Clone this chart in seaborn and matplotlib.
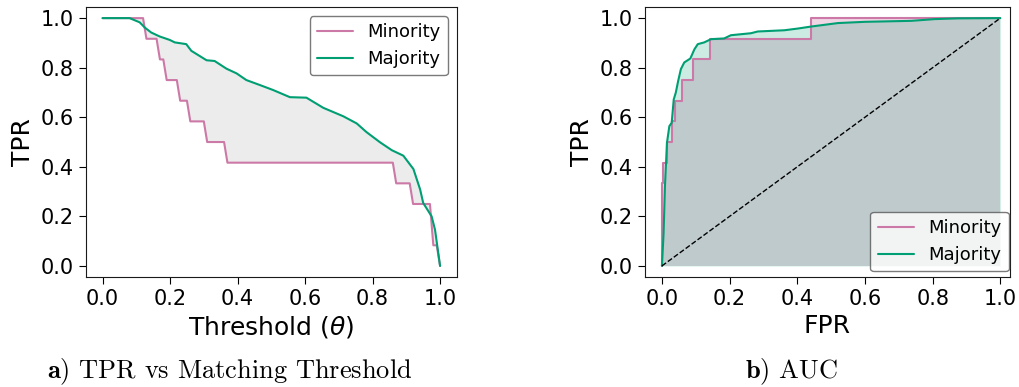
import numpy as np
import pandas as pd
import matplotlib
matplotlib.use("Agg")
import matplotlib.pyplot as plt
import seaborn as sns

# ---- a) TPR vs matching threshold ----
min_thr = [0.0, 0.12, 0.13, 0.16, 0.17, 0.18, 0.19, 0.22, 0.23, 0.25, 0.26, 0.30, 0.31,
           0.36, 0.37, 0.86, 0.87, 0.91, 0.92, 0.97, 0.98, 0.99, 1.0]
min_tpr = [1.0, 1.0, 11/12, 11/12, 10/12, 10/12, 9/12, 9/12, 8/12, 8/12, 7/12, 7/12, 6/12,
           6/12, 5/12, 5/12, 4/12, 4/12, 3/12, 3/12, 1/12, 1/12, 0.0]

maj_thr = [0.0, 0.08, 0.11, 0.125, 0.144, 0.169, 0.199, 0.214, 0.248, 0.263, 0.308, 0.332,
           0.367, 0.397, 0.426, 0.466, 0.505, 0.555, 0.604, 0.654, 0.713, 0.753, 0.782,
           0.822, 0.857, 0.891, 0.921, 0.941, 0.950, 0.975, 0.985, 1.0]
maj_tpr = [1.0, 1.0, 0.983, 0.962, 0.942, 0.926, 0.912, 0.902, 0.895, 0.868, 0.830, 0.827,
           0.796, 0.777, 0.750, 0.730, 0.710, 0.681, 0.679, 0.638, 0.604, 0.575, 0.540,
           0.499, 0.467, 0.445, 0.391, 0.308, 0.254, 0.200, 0.146, 0.0]

# ---- b) ROC curves ----
min_fpr = [0.0, 0.0, 0.004, 0.004, 0.015, 0.015, 0.029, 0.029, 0.038, 0.038, 0.058, 0.058,
           0.091, 0.091, 0.143, 0.143, 0.441, 0.441, 1.0]
min_roc = [0.0, 4/12, 4/12, 5/12, 5/12, 6/12, 6/12, 7/12, 7/12, 8/12, 8/12, 9/12,
           9/12, 10/12, 10/12, 11/12, 11/12, 1.0, 1.0]

maj_fpr = [0.0, 0.005, 0.009, 0.015, 0.022, 0.029, 0.035, 0.041, 0.048, 0.056, 0.066,
           0.084, 0.096, 0.106, 0.125, 0.145, 0.184, 0.204, 0.263, 0.283, 0.362, 0.402,
           0.441, 0.520, 0.599, 0.737, 0.806, 0.875, 1.0]
maj_roc = [0.0, 0.132, 0.321, 0.497, 0.564, 0.578, 0.672, 0.699, 0.746, 0.794, 0.821,
           0.837, 0.874, 0.895, 0.902, 0.915, 0.918, 0.931, 0.939, 0.946, 0.951, 0.958,
           0.966, 0.980, 0.985, 0.989, 0.996, 0.999, 1.0]

chance = [0.0, 1.0]

pink = "#CC79A7"
green = "#009E73"

sns.set_style("ticks", {'text.color': 'black', 'axes.labelcolor': 'black',
                        'xtick.color': 'black', 'ytick.color': 'black',
                        'axes.edgecolor': '0.1'})
plt.rcParams['font.family'] = ['DejaVu Sans']

fig = plt.figure(figsize=(10.2, 3.87), dpi=100)
ax1 = fig.add_axes([0.084, 0.284, 0.364, 0.698])
ax2 = fig.add_axes([0.632, 0.284, 0.358, 0.698])

# left panel
ax1.fill(np.concatenate([maj_thr, min_thr[::-1]]),
         np.concatenate([maj_tpr, min_tpr[::-1]]),
         color='grey', alpha=0.15, lw=0)
sns.lineplot(x=min_thr, y=min_tpr, ax=ax1, color=pink, lw=1.5, label='Minority',
             estimator=None, sort=False)
sns.lineplot(x=maj_thr, y=maj_tpr, ax=ax1, color=green, lw=1.5, label='Majority',
             estimator=None, sort=False)
ax1.set_xlim(-0.05, 1.05)
ax1.set_ylim(-0.045, 1.045)
ax1.set_xlabel(r'Threshold ($\theta$)', fontsize=18)
ax1.set_ylabel('TPR', fontsize=18)
ax1.legend(loc='upper right', fontsize=13, edgecolor='0.35')

# right panel
ax2.fill_between(min_fpr, min_roc, color=pink, alpha=0.3, lw=0)
ax2.fill_between(maj_fpr, maj_roc, color=green, alpha=0.2, lw=0)
sns.lineplot(x=min_fpr, y=min_roc, ax=ax2, color=pink, lw=1.5, label='Minority',
             estimator=None, sort=False)
sns.lineplot(x=maj_fpr, y=maj_roc, ax=ax2, color=green, lw=1.5, label='Majority',
             estimator=None, sort=False)
ax2.plot(chance, chance, 'k--', lw=1)
ax2.set_xlim(-0.051, 1.028)
ax2.set_ylim(-0.045, 1.045)
ax2.set_xlabel('FPR', fontsize=18)
ax2.set_ylabel('TPR', fontsize=18)
ax2.legend(loc='lower right', bbox_to_anchor=(0.997, 0.022), borderaxespad=0,
           fontsize=13, edgecolor='0.35')

for ax in (ax1, ax2):
    ax.set_xticks([0, 0.2, 0.4, 0.6, 0.8, 1.0])
    ax.set_yticks([0, 0.2, 0.4, 0.6, 0.8, 1.0])
    ax.tick_params(labelsize=15, length=5)

fig.text(0.225, 0.04, r'$\mathbf{a)}$ TPR vs Matching Threshold', ha='center', va='center',
         fontsize=19, family='cmr10', math_fontfamily='cm')
fig.text(0.776, 0.04, r'$\mathbf{b)}$ AUC', ha='center', va='center',
         fontsize=19, family='cmr10', math_fontfamily='cm')

fig.savefig('out.png', dpi=100)
